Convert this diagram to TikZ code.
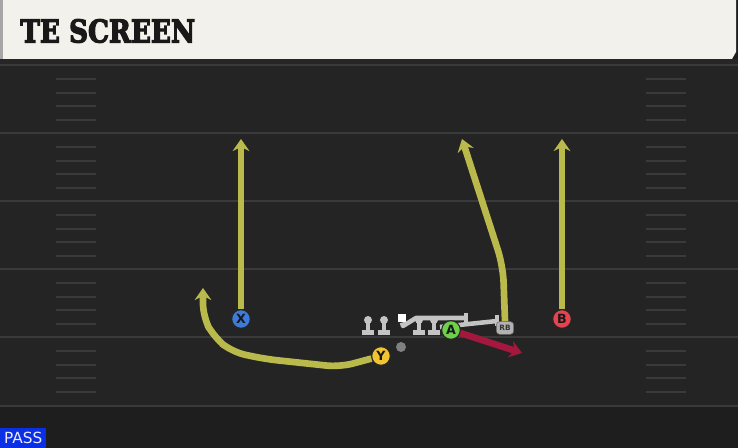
\documentclass[tikz,border=0pt]{standalone}
\usepackage{fontspec}
\setmainfont{DejaVu Sans}
\newfontfamily\titlefont{DejaVu Serif}[BoldFont={DejaVu Serif Bold}, BoldFeatures={FakeBold=4}]
\usetikzlibrary{arrows.meta,calc}
\definecolor{field}{HTML}{242424}
\definecolor{fieldlow}{HTML}{1E1E1E}
\definecolor{banner}{HTML}{F3F1EB}
\definecolor{yardline}{HTML}{3A3A3A}
\definecolor{route}{HTML}{B9B94C}
\definecolor{runroute}{HTML}{A3183C}
\definecolor{blockgray}{HTML}{C4C4C4}
\definecolor{xblue}{HTML}{3C7BDA}
\definecolor{yyellow}{HTML}{F1C431}
\definecolor{agreen}{HTML}{6DCF4A}
\definecolor{bred}{HTML}{E6424F}
\definecolor{passblue}{HTML}{0B2FE4}
\begin{document}
\begin{tikzpicture}[x=0.75pt,y=-0.75pt]
	\tikzstyle{Player} = [circle, minimum size=14pt, inner sep=0pt, draw=black!85, line width=0.8pt, font=\bfseries\fontsize{9.5}{9.5}\selectfont, text=black!90]
	\tikzstyle{Lineman} = [circle, minimum size=6pt, inner sep=0pt, fill=blockgray]
	\tikzstyle{arrow} = [line width=5pt, -{Stealth[length=9pt,width=12.5pt,inset=3pt]}]
	\tikzstyle{block} = [line width=3.4pt, draw=blockgray]
	
	\useasboundingbox (0,0) rectangle (738,448);
	\fill[fieldlow] (0,0) rectangle (738,448);
	\fill[field] (0,59) rectangle (738,406);
	\fill[black!85] (0,59) rectangle (738,65);
	
	\foreach \y in {65,133,201,269,337,406}
		\draw[yardline, line width=1.8pt] (0,\y) -- (738,\y);
	\foreach \y in {65,133,201,269,337}
		\foreach \d in {14,28,41,55} {
			\draw[yardline, line width=1.2pt] (56,\y+\d) -- (96,\y+\d);
			\draw[yardline, line width=1.2pt] (646,\y+\d) -- (686,\y+\d);
		}
	
	\fill[black!35] (0,0) rectangle (3,59);
	\fill[banner] (3,0) -- (736,0) -- (736,52) -- (732,59) -- (3,59) -- cycle;
	\node (title) [anchor=west, inner sep=0pt, text=black!90] at (20,31)
		{\scalebox{0.84}[1]{\titlefont\bfseries\fontsize{23.5}{24}\selectfont TE SCREEN}};
	
	\node (pass) [anchor=south west, fill=passblue, minimum width=34.5pt, minimum height=14.5pt, inner sep=0pt, text=white!92!blue, font=\fontsize{11.5}{11.5}\selectfont] at (0,448) {PASS};
	
	\foreach \x [count=\i] in {368,384,419,434} {
		\node (ol\i) [Lineman] at (\x,320) {};
		\fill[blockgray] (\x-2.2,320) rectangle (\x+2.2,331);
		\fill[blockgray] (\x-6,330) rectangle (\x+6,335.5);
	}
	\node (c) [rectangle, minimum size=6.5pt, inner sep=0pt, fill=white] at (402,318) {};
	\node (qb) [circle, minimum size=7.5pt, inner sep=0pt, fill=black!50] at (401,347) {};
	
	\coordinate (blk1) at (466,318);
	\coordinate (blk2) at (497,321);
	\draw[block, line join=round] (c.south) -- (403,326) -- (416,318) -- (blk1);
	\draw[block] ($(blk1)+(0,-5)$) -- ($(blk1)+(0,5)$);
	\draw[block] (440,327) -- (blk2);
	\draw[block] ($(blk2)+(0,-6)$) -- ($(blk2)+(0,5)$);
	
	\node (x) [Player, fill=xblue] at (241,319) {X};
	\node (b) [Player, fill=bred] at (562,319) {B};
	\node (y) [Player, fill=yyellow] at (381,356) {Y};
	\node (rb) [rectangle, rounded corners=2.5pt, minimum width=13pt, minimum height=9.5pt, inner sep=0pt, fill=black!30, draw=black!60, line width=0.4pt, font=\bfseries\fontsize{5.5}{5.5}\selectfont, text=black!80] at (505,328) {RB};
	
	\coordinate (xend) at (241,139);
	\coordinate (bend) at (562,139);
	\coordinate (yend) at (203,288);
	\coordinate (rbend) at (462,139);
	\coordinate (astart) at (451,330);
	\coordinate (aend) at (522,353);
	
	\draw[arrow, route] (x) -- (xend);
	\draw[arrow, route] (b) -- (bend);
	\draw[arrow, route, rounded corners=10pt] (y) -- (340,367) -- (265,359) -- (232,352) -- (214,337) -- (203,317) -- (yend);
	\draw[arrow, route, rounded corners=12pt] (rb.north) -- (503,266) -- (rbend);
	
	\draw[arrow, runroute] (astart) -- (aend);
	\node (a) [Player, fill=agreen] at (astart) {A};
\end{tikzpicture}
\end{document}
